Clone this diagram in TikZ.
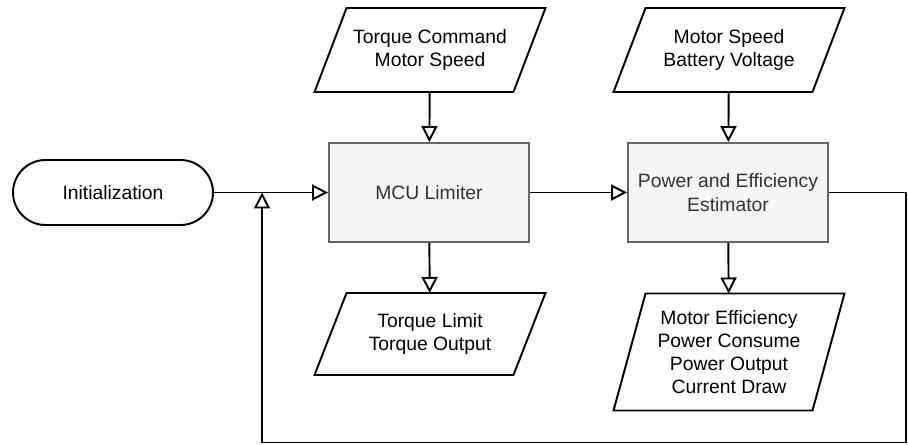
\documentclass[tikz,border=0pt]{standalone}
\usepackage{fontspec}
\setmainfont{Liberation Sans}
\usepackage{xcolor}
\usetikzlibrary{arrows.meta}

\definecolor{blockfill}{HTML}{F5F5F5}
\definecolor{blockline}{HTML}{666666}
\definecolor{blocktext}{HTML}{333333}

\begin{document}
\begin{tikzpicture}[
        x=0.02cm, y=-0.02cm,
        font=\fontsize{11}{13.2}\selectfont,
        terminal/.style = {draw, rectangle, rounded corners=0.65cm, line width=1.1pt, minimum width=4cm, minimum height=1.3cm},
        block/.style = {draw=blockline, fill=blockfill, text=blocktext, rectangle, line width=1.1pt, minimum width=4cm, minimum height=1.98cm, align=center},
        io/.style = {rectangle, outer sep=0pt, minimum width=3.98cm, minimum height=#1, align=center},
        slanted/.style = {line width=1.1pt},
        arrow/.style = {-{Triangle[open, length=0.32cm, width=0.32cm]}, line width=1.1pt}
    ]
    \useasboundingbox (0,0) rectangle (908,445);

    % Start of the flow
    \node[terminal] (init) at (113,192.5) {Initialization};

    % Processing blocks
    \node[block] (mcu) at (429,192.5) {MCU Limiter};
    \node[block] (pee) at (728,192.5) {Power and Efficiency\\Estimator};

    % Inputs above
    \node[io=1.68cm] (mcuin) at (430,50) {Torque Command\\Motor Speed};
    \node[io=1.68cm] (peein) at (729,50) {Motor Speed\\Battery Voltage};

    % Outputs below
    \node[io=1.64cm] (mcuout) at (430,334) {Torque Limit\\Torque Output};
    \node[io=2.34cm] (peeout) at (729,352) {Motor Efficiency\\Power Consume\\Power Output\\Current Draw};

    % Parallelogram outlines for inputs and outputs
    \foreach \n in {mcuin,peein,mcuout,peeout}
        \draw[slanted] ([xshift=0.32cm]\n.north west) -- ([xshift=0.32cm]\n.north east)
            -- ([xshift=-0.32cm]\n.south east) -- ([xshift=-0.32cm]\n.south west) -- cycle;

    % Loop back points
    \coordinate (merge) at (262,192.5);
    \coordinate (back) at (906,442.5);

    % Draw arrows
    \draw[arrow] (init) -- (mcu);
    \draw[arrow] (mcu) -- (pee);
    \draw[arrow] (mcuin) -- (mcu);
    \draw[arrow] (peein) -- (pee);
    \draw[arrow] (mcu) -- (mcuout);
    \draw[arrow] (pee) -- (peeout);

    % Feedback loop
    \draw[arrow] (pee.east) -| (back) -| (merge);

\end{tikzpicture}
\end{document}
